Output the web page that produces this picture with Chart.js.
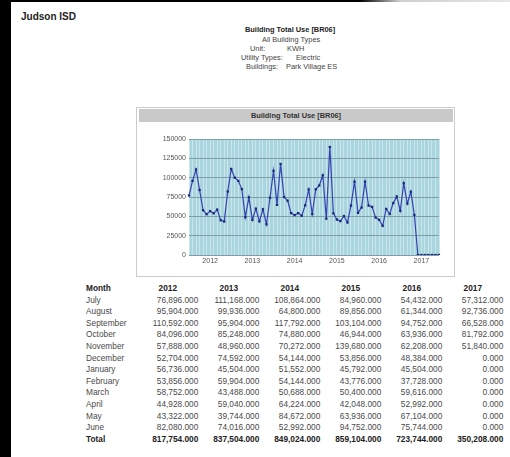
<!DOCTYPE html>
<html>
<head>
<meta charset="utf-8">
<script src="https://cdn.jsdelivr.net/npm/chart.js@4.4.1/dist/chart.umd.min.js"></script>
<style>
  body { margin: 0; width: 510px; height: 457px; background: #fff; position: relative; overflow: hidden;
         font-family: Arial, "Liberation Sans", sans-serif; }
  .abs { position: absolute; white-space: nowrap; }
  #leftBar { left: 0; top: 0; width: 11px; height: 457px; background: #000; }
  #topBar { left: 0; top: 0; width: 510px; height: 2px; background: linear-gradient(to right, #000 0, #000 360px, #cfcfcf 400px, #e6e6e6 510px); }
  #org { left: 21px; top: 11px; font-size: 10px; font-weight: bold; color: #222; }
  .info { font-size: 7.4px; color: #444; line-height: 9px; }
  #chartBox { left: 136px; top: 107px; width: 319px; height: 170px; box-sizing: border-box; border: 1px solid #cccccc; }
  #chartHead { left: 139px; top: 109px; width: 314px; height: 13px; background: #c9c9c9; text-align: center;
               font-size: 7.4px; font-weight: bold; color: #333; line-height: 13px; }
  #chartCanvas { position: absolute; left: 136px; top: 107px; }
  #useTable { position: absolute; left: 86px; top: 283px; border-collapse: collapse; table-layout: fixed; }
  #useTable td, #useTable th { padding: 0; height: 11.6px; line-height: 11.6px; font-size: 8.3px; white-space: nowrap; }
  #useTable td { color: #4a4a4a; text-align: right; }
  #useTable td.m { text-align: left; }
  #useTable th { color: #222; text-align: center; }
  #useTable th.m { text-align: left; }
  #useTable tr.total td { color: #222; font-weight: bold; }
</style>
</head>
<body>
<div id="leftBar" class="abs"></div>
<div id="topBar" class="abs"></div>
<div id="org" class="abs">Judson ISD</div>

<div class="abs info" style="left:245px; top:25px; font-weight:bold; color:#222;">Building Total Use [BR06]</div>
<div class="abs info" style="left:262px; top:35px;">All Building Types</div>
<div class="abs info" style="left:250px; top:44px;">Unit:</div>
<div class="abs info" style="left:287px; top:44px;">KWH</div>
<div class="abs info" style="left:241px; top:52.5px;">Utility Types:</div>
<div class="abs info" style="left:296px; top:52.5px;">Electric</div>
<div class="abs info" style="left:246px; top:61.5px;">Buildings:</div>
<div class="abs info" style="left:286px; top:61.5px;">Park Village ES</div>

<div id="chartBox" class="abs"></div>
<div id="chartHead" class="abs">Building Total Use [BR06]</div>
<canvas id="chartCanvas" width="319" height="170"></canvas>

<table id="useTable"></table>

<script>
// fiscal year runs July..June
const months = ['July', 'August', 'September', 'October', 'November', 'December',
                'January', 'February', 'March', 'April', 'May', 'June'];
const years = ['2012', '2013', '2014', '2015', '2016', '2017'];

const use2012 = [76896, 95904, 110592, 84096, 57888, 52704, 56736, 53856, 58752, 44928, 43322, 82080];
const use2013 = [111168, 99936, 95904, 85248, 48960, 74592, 45504, 59904, 43488, 59040, 39744, 74016];
const use2014 = [108864, 64800, 117792, 74880, 70272, 54144, 51552, 54144, 50688, 64224, 84672, 52992];
const use2015 = [84960, 89856, 103104, 46944, 139680, 53856, 45792, 43776, 50400, 42048, 63936, 94752];
const use2016 = [54432, 61344, 94752, 63936, 62208, 48384, 45504, 37728, 59616, 52992, 67104, 75744];
const use2017 = [57312, 92736, 66528, 81792, 51840, 0, 0, 0, 0, 0, 0, 0];

const yTickValues = [0, 25000, 50000, 75000, 100000, 125000, 150000];

const useByYear = [use2012, use2013, use2014, use2015, use2016, use2017];

// 🔹 series for the chart: one point per month
const pointLabels = [];
const pointValues = [];
years.forEach((fy, yi) => {
  months.forEach((m, mi) => {
    const calYear = mi < 6 ? String(Number(fy) - 1) : fy;
    pointLabels.push(m === 'January' ? calYear : '');
    pointValues.push(useByYear[yi][mi]);
  });
});

const fmt = v => v.toLocaleString('en-US', { minimumFractionDigits: 3, maximumFractionDigits: 3 });

// 🔹 table
const table = document.getElementById('useTable');
let html = '<colgroup><col style="width:51.3px">' + years.map(() => '<col style="width:61px">').join('') + '</colgroup>';
html += '<tr><th class="m">Month</th>' + years.map(y => `<th>${y}</th>`).join('') + '</tr>';
months.forEach((m, mi) => {
  html += `<tr><td class="m">${m}</td>` + useByYear.map(arr => `<td>${fmt(arr[mi])}</td>`).join('') + '</tr>';
});
html += '<tr class="total"><td class="m">Total</td>' +
  useByYear.map(arr => `<td>${fmt(arr.reduce((a, b) => a + b, 0))}</td>`).join('') + '</tr>';
table.innerHTML = html;

// 🔹 plot background
const plotBg = {
  id: 'plotBg',
  beforeDraw(chart) {
    const { ctx, chartArea: a } = chart;
    ctx.save();
    ctx.fillStyle = '#a9d6de';
    ctx.fillRect(a.left, a.top, a.right - a.left, a.bottom - a.top);
    ctx.restore();
  }
};

const font = { family: 'Arial, "Liberation Sans", sans-serif', size: 7 };

new Chart(document.getElementById('chartCanvas'), {
  type: 'line',
  data: {
    labels: pointLabels,
    datasets: [{
      data: pointValues,
      borderColor: '#3442b2',
      borderWidth: 1.2,
      pointStyle: 'rect',
      pointRadius: 1.6,
      pointBackgroundColor: '#1b2478',
      pointBorderColor: '#1b2478',
      pointBorderWidth: 0,
      tension: 0
    }]
  },
  options: {
    responsive: false,
    devicePixelRatio: 1,
    animation: false,
    layout: { padding: { left: 8, right: 16, top: 32, bottom: 8 } },
    plugins: { legend: { display: false }, tooltip: { enabled: false } },
    scales: {
      x: {
        offset: false,
        grid: { color: '#cbe5eb', lineWidth: 1, drawTicks: false },
        border: { display: false },
        ticks: { autoSkip: false, maxRotation: 0, minRotation: 0, padding: 2, color: '#555', font },
        afterFit(scale) { scale.height = 14; }
      },
      y: {
        min: 0,
        max: 150000,
        afterBuildTicks(scale) { scale.ticks = yTickValues.map(v => ({ value: v })); },
        grid: { color: '#7e9fa7', lineWidth: 1, drawTicks: false },
        border: { display: false },
        ticks: { padding: 3, color: '#555', font, callback: v => String(v) },
        afterFit(scale) { scale.width = 45; }
      }
    }
  },
  plugins: [plotBg]
});
</script>
</body>
</html>
